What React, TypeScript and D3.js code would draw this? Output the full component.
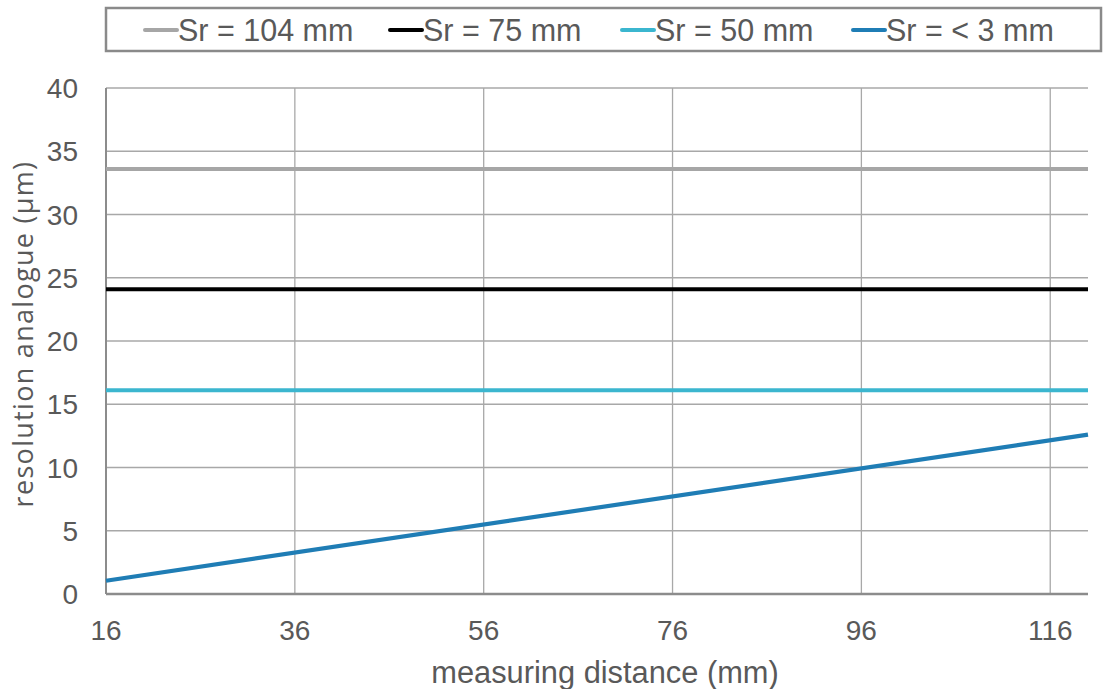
import React from "react";
import * as d3 from "d3";

const distances = [16, 120];
const sr104 = [33.6, 33.6];
const sr75 = [24.1, 24.1];
const sr50 = [16.1, 16.1];
const sr3 = [1.05, 12.6];

const seriesNames = ["Sr = 104 mm", "Sr = 75 mm", "Sr = 50 mm", "Sr = < 3 mm"];
const seriesColors = ["#a6a6a6", "#000000", "#3bb6cf", "#1f7db5"];
const seriesValues = [sr104, sr75, sr50, sr3];
const legendX = [145, 390, 622, 853];

const xTicks = [16, 36, 56, 76, 96, 116];
const yTicks = [0, 5, 10, 15, 20, 25, 30, 35, 40];

const W = 1109;
const H = 689;
const left = 106;
const right = 1088;
const top = 88;
const bottom = 594;

export default function App() {
  const x = d3.scaleLinear().domain([16, 120]).range([left, right]);
  const y = d3.scaleLinear().domain([0, 40]).range([bottom, top]);
  const line = d3
    .line<[number, number]>()
    .x((d) => x(d[0]))
    .y((d) => y(d[1]));
  const font = "Arial, 'Liberation Sans', sans-serif";
  const textColor = "#595959";

  return (
    <div style={{ position: "absolute", left: 0, top: 0 }}>
      <svg width={W} height={H} style={{ display: "block", background: "#fff" }}>
        {/* horizontal gridlines */}
        {yTicks.filter((t) => t > 0).map((t) => (
          <line key={"hg" + t} x1={left} x2={right} y1={y(t)} y2={y(t)} stroke="#a8a8a8" strokeWidth={1.3} />
        ))}
        {/* vertical gridlines */}
        {xTicks.filter((t) => t > 16).map((t) => (
          <line key={"vg" + t} x1={x(t)} x2={x(t)} y1={top} y2={bottom} stroke="#a8a8a8" strokeWidth={1.3} />
        ))}
        {/* axes */}
        <line x1={left} x2={left} y1={top} y2={bottom} stroke="#8c8c8c" strokeWidth={2} />
        <line x1={left} x2={right} y1={bottom} y2={bottom} stroke="#8c8c8c" strokeWidth={2.5} />

        {/* series */}
        {seriesValues.map((vals, i) => (
          <path
            key={"s" + i}
            d={line(distances.map((d, j) => [d, vals[j]]) as [number, number][]) || ""}
            fill="none"
            stroke={seriesColors[i]}
            strokeWidth={i === 3 ? 4.2 : 4}
          />
        ))}

        {/* y tick labels */}
        {yTicks.map((t) => (
          <text key={"yl" + t} x={78} y={y(t)} dy="0.36em" textAnchor="end" fontFamily={font} fontSize={28} fill={textColor}>
            {t}
          </text>
        ))}
        {/* x tick labels */}
        {xTicks.map((t) => (
          <text key={"xl" + t} x={x(t)} y={640} textAnchor="middle" fontFamily={font} fontSize={28} fill={textColor}>
            {t}
          </text>
        ))}

        {/* axis titles */}
        <text x={605} y={683} textAnchor="middle" fontFamily={font} fontSize={30.8} fill={textColor}>
          measuring distance (mm)
        </text>
        <text
          transform={`translate(33, 334) rotate(-90)`}
          textAnchor="middle"
          fontFamily="'Open Sans', Lato, sans-serif"
          fontSize={27}
          letterSpacing={1.3}
          fill={textColor}
        >
          resolution analogue (µm)
        </text>

        {/* legend */}
        <rect x={106} y={8} width={995} height={43} fill="#fff" stroke="#8a8a8a" strokeWidth={2.5} />
        {seriesNames.map((n, i) => (
          <g key={"lg" + i}>
            <line x1={legendX[i]} x2={legendX[i] + 32} y1={30} y2={30} stroke={seriesColors[i]} strokeWidth={4} strokeLinecap="round" />
            <text x={legendX[i] + 33} y={41} fontFamily={font} fontSize={30.5} fill={textColor}>
              {n}
            </text>
          </g>
        ))}
      </svg>
    </div>
  );
}
